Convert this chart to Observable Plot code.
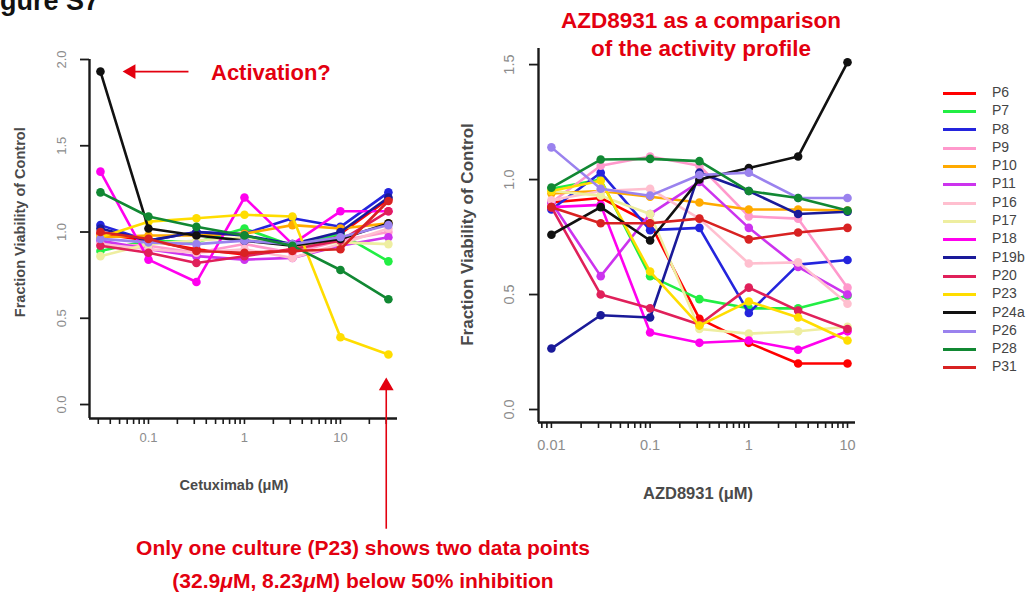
<!DOCTYPE html>
<html><head><meta charset="utf-8">
<script src="https://cdn.jsdelivr.net/npm/d3@7"></script>
<script src="https://cdn.jsdelivr.net/npm/@observablehq/plot@0.6"></script>
<style>
body{margin:0;background:#fff;font-family:"Liberation Sans",Arial,sans-serif;}
#root{position:relative;width:1031px;height:601px;overflow:hidden;background:#fff;}
.abs{position:absolute;white-space:nowrap;}
.note{color:#e3000f;font-weight:bold;text-align:center;}
.axtitle{color:#4a4a4a;font-weight:bold;text-align:center;}
.leg{position:absolute;left:943px;top:83px;font-size:14px;color:#444;}
.leg div{height:18.3px;line-height:18.3px;}
.leg span.sw{display:inline-block;width:33px;height:3px;vertical-align:middle;margin-right:16px;}
</style></head><body><div id="root"></div>
<script>
// ---- data ----
const patients = ["P6","P7","P8","P9","P10","P11","P16","P17","P18","P19b","P20","P23","P24a","P26","P28","P31"];
const colors = ["#ff0000","#22ee44","#2424dd","#ff99cc","#ffaa00","#cc33ee","#ffbfcf","#eeeea0","#ff00ee","#1a1a99","#e0205a","#ffdd00","#111111","#9a82ee","#118833","#d82222"];
const cetuximabDoses = [0.0316, 0.1, 0.316, 1, 3.16, 10, 31.6];
const cetuximabViability = [
  [0.99, 0.95, 0.90, 0.87, 0.90, 0.99, 1.19],
  [0.89, 0.95, 0.94, 1.02, 0.92, 0.99, 0.83],
  [1.04, 0.95, 1.00, 0.99, 1.08, 1.03, 1.23],
  [0.93, 0.92, 0.88, 0.93, 0.88, 0.95, 1.00],
  [0.97, 0.98, 0.98, 0.99, 1.04, 1.02, 1.05],
  [0.95, 0.90, 0.86, 0.84, 0.85, 0.92, 0.97],
  [0.93, 0.90, 0.88, 0.90, 0.85, 0.93, 1.02],
  [0.86, 0.93, 0.95, 0.97, 0.92, 0.94, 0.93],
  [1.35, 0.84, 0.71, 1.20, 0.93, 1.12, 1.12],
  [1.02, 0.95, 1.00, 0.98, 0.93, 1.00, 1.20],
  [0.92, 0.88, 0.82, 0.86, 0.90, 0.95, 1.12],
  [0.97, 1.06, 1.08, 1.10, 1.09, 0.39, 0.29],
  [1.93, 1.02, 0.98, 0.95, 0.92, 0.96, 1.05],
  [0.96, 0.94, 0.93, 0.95, 0.93, 0.97, 1.04],
  [1.23, 1.09, 1.03, 0.98, 0.92, 0.78, 0.61],
  [1.00, 0.96, 0.89, 0.88, 0.89, 0.90, 1.18]
];
const azdDoses = [0.01, 0.0316, 0.1, 0.316, 1, 3.16, 10];
const azdViability = [
  [0.90, 0.92, 0.81, 0.395, 0.29, 0.20, 0.20],
  [0.96, 1.00, 0.58, 0.48, 0.44, 0.44, 0.495],
  [0.87, 1.03, 0.78, 0.79, 0.42, 0.63, 0.65],
  [0.90, 1.06, 1.10, 1.06, 0.84, 0.83, 0.53],
  [0.94, 0.95, 0.925, 0.90, 0.87, 0.87, 0.865],
  [0.90, 0.58, 0.85, 0.99, 0.79, 0.62, 0.50],
  [0.91, 0.95, 0.96, 0.83, 0.635, 0.64, 0.46],
  [0.95, 0.93, 0.85, 0.35, 0.33, 0.34, 0.36],
  [0.88, 0.89, 0.335, 0.29, 0.30, 0.26, 0.34],
  [0.265, 0.41, 0.40, 1.03, 0.95, 0.85, 0.86],
  [0.88, 0.50, 0.44, 0.37, 0.53, 0.43, 0.35],
  [0.95, 0.995, 0.60, 0.365, 0.47, 0.40, 0.30],
  [0.76, 0.88, 0.735, 1.00, 1.05, 1.10, 1.51],
  [1.14, 0.96, 0.93, 1.02, 1.03, 0.92, 0.92],
  [0.965, 1.087, 1.09, 1.08, 0.95, 0.92, 0.865],
  [0.88, 0.81, 0.81, 0.83, 0.74, 0.77, 0.79]
];
const leftYTicks = [0, 0.5, 1, 1.5, 2];
const rightYTicks = [0, 0.5, 1, 1.5];
const leftXLabels = [0.1, 1, 10];
const rightXLabels = [0.01, 0.1, 1, 10];
// annotation arrows (data coordinates of the left panel)
const activationArrow = {from: 0.261, to: 0.066, level: 1.93};
const p23Arrow = {dose: 30, from: -0.72, to: 0.107};
const noteRed = "#e3000f";

// ---- helpers ----
function logTicks(domain) {
  const t = [];
  for (let e = -3; e <= 2; e++) for (let m = 1; m <= 9; m++) {
    const v = +(m * Math.pow(10, e)).toPrecision(3);
    if (v >= domain[0] && v <= domain[1]) t.push(v);
  }
  return t;
}

function panel(o) {
  const marks = [];
  patients.forEach((p, i) => {
    const rows = o.doses.map((d, j) => ({dose: d, v: o.values[i][j], patient: p}));
    marks.push(Plot.line(rows, {x: "dose", y: "v", stroke: colors[i], strokeWidth: 2.6}));
    marks.push(Plot.dot(rows, {x: "dose", y: "v", fill: colors[i], r: 4.3}));
  });
  marks.push(Plot.ruleX([o.xDomain[0]], {stroke: "#1a1a1a", strokeWidth: 2.4}));
  marks.push(Plot.ruleY([o.yDomain[0]], {stroke: "#1a1a1a", strokeWidth: 2.4}));
  marks.push(Plot.axisY(o.yTicks, {label: null, tickSize: 9, tickPadding: o.yPad, tickRotate: -90, tickFormat: d3.format(".1f"), fill: "#8c8c8c", stroke: "#1a1a1a", strokeWidth: 1.8, fontSize: o.tickFont}));
  marks.push(Plot.axisX(logTicks(o.xDomain), {label: null, tickSize: 6, tickPadding: o.xPad, tickFormat: d => o.xLabels.includes(d) ? String(d) : "", fill: "#8c8c8c", stroke: "#1a1a1a", strokeWidth: 1.6, fontSize: o.tickFont}));
  if (o.extra) marks.push(...o.extra);
  return Plot.plot({
    width: o.width, height: o.height,
    marginLeft: o.mL, marginRight: o.mR, marginTop: o.mT, marginBottom: o.mB,
    x: {type: "log", domain: o.xDomain, label: null},
    y: {domain: o.yDomain, label: null},
    style: {background: "transparent", overflow: "visible", fontFamily: "Liberation Sans, Arial, sans-serif"},
    marks
  });
}

const root = document.getElementById("root");
function place(el, left, top) { el.style.position = "absolute"; el.style.left = left + "px"; el.style.top = top + "px"; root.appendChild(el); }

const left = panel({
  doses: cetuximabDoses, values: cetuximabViability,
  xDomain: [0.0243, 39.3], yDomain: [-0.081, 2.0], yTicks: leftYTicks, xLabels: leftXLabels,
  width: 420, height: 540, mL: 89, mR: 23, mT: 59, mB: 122, tickFont: 13, yPad: 15, xPad: 8,
  extra: [
    Plot.link([activationArrow], {x1: "from", x2: "to", y1: "level", y2: "level", stroke: noteRed, strokeWidth: 1.6}),
    Plot.dot([activationArrow], {x: "to", y: "level", symbol: "triangle", rotate: -90, r: 5.5, fill: noteRed}),
    Plot.link([p23Arrow], {x1: "dose", x2: "dose", y1: "from", y2: "to", stroke: noteRed, strokeWidth: 1.6}),
    Plot.dot([p23Arrow], {x: "dose", y: "to", symbol: "triangle", r: 5.5, fill: noteRed})
  ]
});
place(left, 0, 0);

const right = panel({
  doses: azdDoses, values: azdViability,
  xDomain: [0.0074, 12.05], yDomain: [-0.0565, 1.57], yTicks: rightYTicks, xLabels: rightXLabels,
  width: 430, height: 520, mL: 98, mR: 15, mT: 48, mB: 98, tickFont: 14.5, yPad: 16, xPad: 11
});
place(right, 440, 0);

function addText(txt, cls, left, top, size, extraStyle) {
  const d = document.createElement("div");
  d.className = "abs " + cls;
  d.textContent = txt;
  d.style.left = left + "px"; d.style.top = top + "px";
  d.style.fontSize = size + "px"; d.style.lineHeight = size + "px";
  if (extraStyle) Object.assign(d.style, extraStyle);
  root.appendChild(d);
  return d;
}
// figure label (cut off at the top left like the source)
addText("Figure S7", "", -24, -12, 27, {fontWeight: "bold", color: "#111"});
// annotations
addText("Activation?", "note", 211, 62, 22);
addText("AZD8931 as a comparison", "note", 508, 10, 22.5, {width: "386px"});
addText("of the activity profile", "note", 508, 38, 22.5, {width: "386px"});
addText("Only one culture (P23) shows two data points", "note", 63, 537, 21, {width: "600px"});
const l2 = addText("", "note", 63, 570, 21, {width: "600px"});
l2.innerHTML = "(32.9<i>μ</i>M, 8.23<i>μ</i>M) below 50% inhibition";
// axis titles
addText("Fraction Viability of Control", "axtitle", 20 - 150, 223 - 8, 14.5, {width: "300px", transform: "rotate(-90deg)"});
addText("Fraction Viability of Control", "axtitle", 467 - 150, 235 - 9, 17, {width: "300px", transform: "rotate(-90deg)"});
addText("Cetuximab (μM)", "axtitle", 234 - 100, 478, 14.5, {width: "200px"});
addText("AZD8931 (μM)", "axtitle", 698 - 100, 485, 16.5, {width: "200px"});

// legend
const leg = document.createElement("div");
leg.className = "leg";
patients.forEach((p, i) => {
  const row = document.createElement("div");
  const sw = document.createElement("span");
  sw.className = "sw"; sw.style.background = colors[i];
  row.appendChild(sw);
  row.appendChild(document.createTextNode(p));
  leg.appendChild(row);
});
root.appendChild(leg);
</script>
</body></html>
